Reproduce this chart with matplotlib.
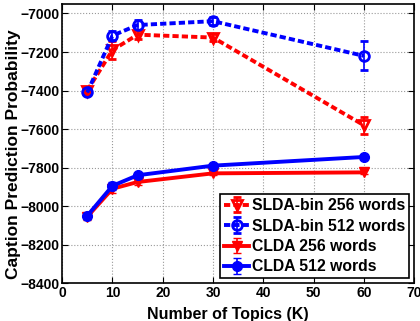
import matplotlib
matplotlib.use("Agg")
from matplotlib import pyplot as plt

topics = [5, 10, 15, 30, 60]
slda256 = [-7400, -7190, -7110, -7125, -7580]
slda256_err = [15, 45, 20, 20, 45]
slda512 = [-7410, -7115, -7060, -7040, -7220]
slda512_err = [15, 25, 25, 20, 75]
clda256 = [-8055, -7910, -7875, -7830, -7825]
clda256_err = [15, 20, 15, 10, 10]
clda512 = [-8050, -7895, -7840, -7790, -7745]
clda512_err = [15, 20, 10, 10, 10]

plt.rcParams['font.family'] = ['Liberation Sans', 'DejaVu Sans']
plt.rcParams['font.weight'] = 'bold'

fig = plt.figure(figsize=(4.2, 3.21), dpi=100)
ax = fig.add_axes([0.148, 0.118, 0.838, 0.87])

dash = (0, (1.6, 0.8))
ax.errorbar(topics, slda256, yerr=slda256_err, color='red', ls=dash, lw=2.8,
            marker='v', mfc='none', mec='red', mew=2, ms=7, capsize=3, elinewidth=1.2,
            label='SLDA-bin 256 words')
ax.errorbar(topics, slda512, yerr=slda512_err, color='blue', ls=dash, lw=2.8,
            marker='o', mfc='none', mec='blue', mew=2, ms=7, capsize=3, elinewidth=1.2,
            label='SLDA-bin 512 words')
ax.errorbar(topics, clda256, yerr=clda256_err, color='red', ls='-', lw=2.8,
            marker='v', ms=7, capsize=3, elinewidth=1.2,
            label='CLDA 256 words')
ax.errorbar(topics, clda512, yerr=clda512_err, color='blue', ls='-', lw=2.8,
            marker='o', ms=7, capsize=3, elinewidth=1.2,
            label='CLDA 512 words')

ax.set_xlim(0, 70)
ax.set_ylim(-8400, -6950)
ax.set_xticks(range(0, 71, 10))
ax.set_yticks(range(-8400, -6999, 200))
ax.grid(True, ls=':', color='#999999', lw=0.8)
ax.tick_params(direction='in', labelsize=10, top=True, right=True, length=4, pad=2)
for s in ax.spines.values():
    s.set_linewidth(1.2)
ax.set_xlabel('Number of Topics (K)', fontsize=11.5, fontweight='bold')
ax.set_ylabel('Caption Prediction Probability', fontsize=12.5, fontweight='bold')
ax.yaxis.set_label_coords(-0.118, 0.462)
ax.xaxis.set_label_coords(0.47, -0.085)

leg = ax.legend(loc='lower right', fontsize=11.3, fancybox=False, framealpha=1,
                edgecolor='black', handlelength=1.6, borderpad=0.25, labelspacing=0.35,
                handletextpad=0.2, borderaxespad=0.3)
leg.get_frame().set_linewidth(1.2)

fig.savefig('out.png', dpi=100)
